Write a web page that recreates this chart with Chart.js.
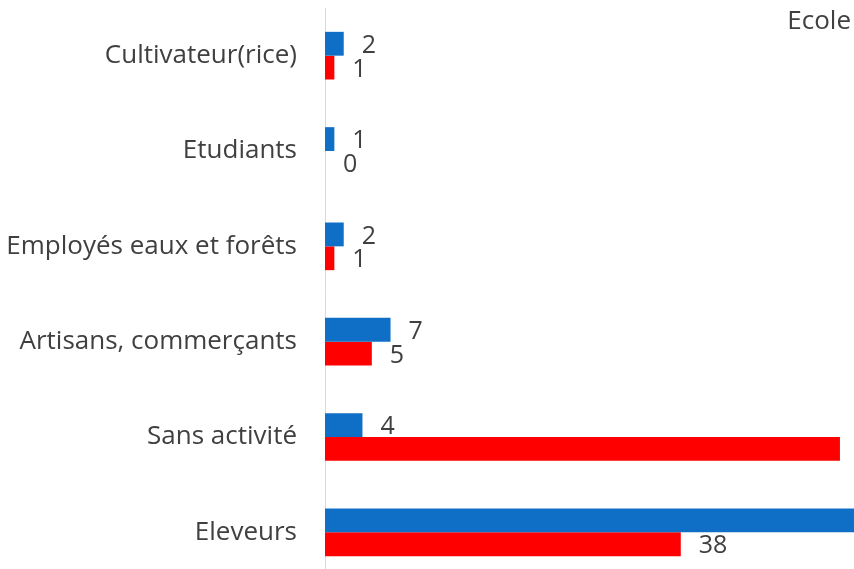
<!DOCTYPE html>
<html>
<head>
<meta charset="utf-8">
<script src="https://cdn.jsdelivr.net/npm/chart.js@4"></script>
<style>
  html, body { margin: 0; padding: 0; background: #ffffff; overflow: hidden; }
  #wrap { position: relative; width: 854px; height: 569px; overflow: hidden; }
  #box { position: absolute; left: 0; top: 0; width: 854px; height: 584px; }
</style>
</head>
<body>
<div id="wrap"><div id="box"><canvas id="chart"></canvas></div></div>
<script>
// categories (top to bottom)
const categories = [
    "Cultivateur(rice)",
    "Etudiants",
    "Employés eaux et forêts",
    "Artisans, commerçants",
    "Sans activité",
    "Eleveurs"
];
// blue series
const seriesBlue = [2, 1, 2, 7, 4, 60];
// red series
const seriesRed = [1, 0, 1, 5, 55, 38];
const legendText = "Ecole";

const textColor = "#404040";
const fontFamily = "'Open Sans', Lato, sans-serif";

// labels drawn at the end of each bar
const barValueLabels = {
    id: "barValueLabels",
    afterDatasetsDraw(chart) {
        const ctx = chart.ctx;
        ctx.save();
        ctx.font = "25px " + fontFamily;
        ctx.fillStyle = textColor;
        ctx.textAlign = "left";
        ctx.textBaseline = "middle";
        chart.data.datasets.forEach((ds, i) => {
            chart.getDatasetMeta(i).data.forEach((bar, j) => {
                ctx.fillText(String(ds.data[j]), bar.x + 18, bar.y + 2);
            });
        });
        // cropped legend text at the top right
        ctx.font = "26px " + fontFamily;
        ctx.textAlign = "right";
        ctx.fillText(legendText, chart.chartArea.right - 3, 22);
        ctx.restore();
    }
};

new Chart(document.getElementById("chart"), {
    type: "bar",
    data: {
        labels: categories,
        datasets: [
            {
                label: "Série 1",
                data: seriesBlue,
                backgroundColor: "#0F6FC6",
                barPercentage: 1.0,
                categoryPercentage: 0.5
            },
            {
                label: "Série 2",
                data: seriesRed,
                backgroundColor: "#FF0000",
                barPercentage: 1.0,
                categoryPercentage: 0.5
            }
        ]
    },
    options: {
        indexAxis: "y",
        responsive: true,
        maintainAspectRatio: false,
        animation: false,
        layout: { padding: { top: 8, right: 0, bottom: 4, left: 0 } },
        plugins: {
            legend: { display: false },
            tooltip: { enabled: false }
        },
        scales: {
            x: {
                display: false,
                min: 0,
                max: 56.5
            },
            y: {
                afterFit(scale) {
                    scale.width = 325;
                    scale.paddingTop = 0;
                    scale.paddingBottom = 0;
                },
                grid: { display: false, drawTicks: false },
                border: { display: true, color: "#D9D9D9", width: 1 },
                ticks: {
                    padding: 28,
                    color: textColor,
                    font: { family: fontFamily, size: 26 }
                }
            }
        }
    },
    plugins: [barValueLabels]
});
</script>
</body>
</html>
